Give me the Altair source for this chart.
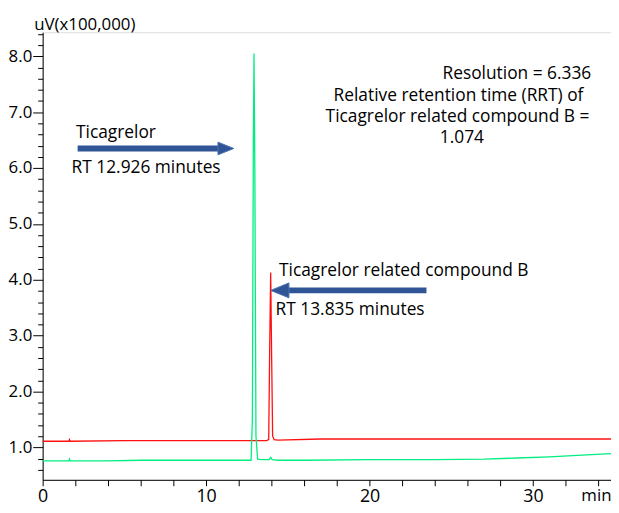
import altair as alt
import pandas as pd

FONT = "Open Sans"

# ---- trace data (minutes, uV x100,000) ----
red_t = [0.0, 1.6, 1.64, 1.68, 5.0, 9.0, 12.0, 13.7, 13.83, 13.89, 13.95, 14.01, 14.07, 14.16, 14.4, 17.0, 20.0, 25.0, 30.0, 34.77]
red_v = [1.11, 1.11, 1.14, 1.11, 1.12, 1.12, 1.12, 1.12, 1.14, 2.8, 4.13, 2.6, 1.2, 1.14, 1.13, 1.15, 1.15, 1.15, 1.15, 1.15]

green_t = [0.0, 1.6, 1.64, 1.68, 4.0, 6.0, 8.5, 10.0, 11.5, 12.75, 12.83, 12.89, 12.93, 12.98, 13.05, 13.15, 13.4, 13.86, 13.95, 14.04, 14.4, 16.0, 20.0, 24.0, 27.0, 29.0, 31.0, 33.0, 34.77]
green_v = [0.76, 0.76, 0.79, 0.76, 0.76, 0.77, 0.77, 0.77, 0.77, 0.77, 1.5, 6.5, 8.05, 6.0, 1.2, 0.79, 0.78, 0.78, 0.82, 0.78, 0.77, 0.77, 0.78, 0.78, 0.79, 0.81, 0.83, 0.86, 0.89]

# ---- axes ----
x_domain = [0, 34.77]
y_domain = [0.42, 8.43]
x_ticks = [0, 2, 4, 6, 8, 10, 12, 14, 16, 18, 20, 22, 24, 26, 28, 30, 32, 34]
y_ticks = [0.6, 0.8, 1.0, 1.2, 1.4, 1.6, 1.8, 2.0, 2.2, 2.4, 2.6, 2.8, 3.0, 3.2, 3.4, 3.6, 3.8,
           4.0, 4.2, 4.4, 4.6, 4.8, 5.0, 5.2, 5.4, 5.6, 5.8, 6.0, 6.2, 6.4, 6.6, 6.8, 7.0,
           7.2, 7.4, 7.6, 7.8, 8.0, 8.2, 8.4]

# ---- annotations ----
left_text = ["Ticagrelor", "RT 12.926 minutes", "Ticagrelor related compound B", "RT 13.835 minutes"]
left_t = [2.04, 1.77, 14.46, 14.25]
left_v = [6.53, 5.91, 4.06, 3.37]

center_text = ["Relative retention time (RRT) of", "Ticagrelor related compound B =", "1.074"]
center_t = [25.44, 25.38, 25.65]
center_v = [7.20, 6.82, 6.45]

right_text = ["Resolution = 6.336"]
right_t = [33.56]
right_v = [7.60]

arrow_t = [2.14, 15.0]
arrow_t2 = [10.8, 23.48]
arrow_v = [6.35, 3.81]
head_right_t = [11.21]
head_right_v = [6.35]
head_left_t = [14.51]
head_left_v = [3.81]

red_df = pd.DataFrame({"t": red_t, "v": red_v})
green_df = pd.DataFrame({"t": green_t, "v": green_v})

xs = alt.Scale(domain=x_domain, nice=False, zero=False)
ys = alt.Scale(domain=y_domain, nice=False, zero=False)

x_axis = alt.Axis(
    values=x_ticks, format="d", tickCount=200,
    labelExpr="datum.value % 10 === 0 ? datum.label : ''",
    labelOverlap=False, labelFlush=False, labelBound=False,
    tickSize=6, tickColor="black", domainColor="black", labelColor="black",
    labelFont=FONT, labelFontSize=18, labelPadding=2, grid=False,
    title="min", titleFont=FONT, titleFontSize=17, titleFontWeight="normal",
    titleX=574, titleY=8, titleAlign="right", titleBaseline="top", titleColor="black",
)
y_axis = alt.Axis(
    values=y_ticks, tickCount=200,
    labelExpr="abs(datum.value - round(datum.value)) < 0.001 ? format(datum.value, '.1f') : ''",
    labelOverlap=False, labelFlush=False, labelBound=False,
    tickSize={"condition": {"test": "abs(datum.value - round(datum.value)) < 0.001", "value": 10}, "value": 5},
    tickColor="black", domainColor="black", labelColor="black",
    labelFont=FONT, labelFontSize=17, labelPadding=1, grid=False,
    title="uV(x100,000)", titleFont=FONT, titleFontSize=17, titleFontWeight="normal",
    titleAngle=0, titleX=-9, titleY=-3, titleAlign="left", titleBaseline="alphabetic", titleColor="black",
)

red = alt.Chart(red_df).mark_line(color="#ff1010", strokeWidth=1.3).encode(
    x=alt.X("t:Q", scale=xs, axis=x_axis),
    y=alt.Y("v:Q", scale=ys, axis=y_axis),
)
green = alt.Chart(green_df).mark_line(color="#00ee80", strokeWidth=1.3).encode(
    x=alt.X("t:Q", scale=xs),
    y=alt.Y("v:Q", scale=ys),
)

arrows = alt.Chart(pd.DataFrame({"t": arrow_t, "t2": arrow_t2, "v": arrow_v})).mark_rule(
    color="#2f5597", strokeWidth=6
).encode(x=alt.X("t:Q", scale=xs), x2="t2:Q", y=alt.Y("v:Q", scale=ys))

head_r = alt.Chart(pd.DataFrame({"t": head_right_t, "v": head_right_v})).mark_point(
    shape="M-1,-0.8 L1,0 L-1,0.8 Z", size=256, filled=True, fill="#2f5597",
    stroke="#4a70b0", strokeWidth=1, opacity=1
).encode(x=alt.X("t:Q", scale=xs), y=alt.Y("v:Q", scale=ys))

head_l = alt.Chart(pd.DataFrame({"t": head_left_t, "v": head_left_v})).mark_point(
    shape="M1,-0.82 L-1,0 L1,0.82 Z", size=338, filled=True, fill="#2f5597",
    stroke="#4a70b0", strokeWidth=1, opacity=1
).encode(x=alt.X("t:Q", scale=xs), y=alt.Y("v:Q", scale=ys))

def text_layer(texts, ts, vs, align):
    df = pd.DataFrame({"t": ts, "v": vs, "txt": texts})
    return alt.Chart(df).mark_text(
        align=align, baseline="alphabetic", font=FONT, fontSize=17.5, color="black"
    ).encode(x=alt.X("t:Q", scale=xs), y=alt.Y("v:Q", scale=ys), text="txt:N")

chart = alt.layer(
    red, green, arrows, head_r, head_l,
    text_layer(left_text, left_t, left_v, "left"),
    text_layer(center_text, center_t, center_v, "center"),
    text_layer(right_text, right_t, right_v, "right"),
).properties(
    width=574, height=452,
    autosize=alt.AutoSizeParams(type="none"),
    padding={"left": 35, "top": 22, "right": 0, "bottom": 28},
).configure_view(stroke="black", strokeWidth=1).configure(background="white")

chart.save("out.html", embed_options={"renderer": "svg", "actions": False})
